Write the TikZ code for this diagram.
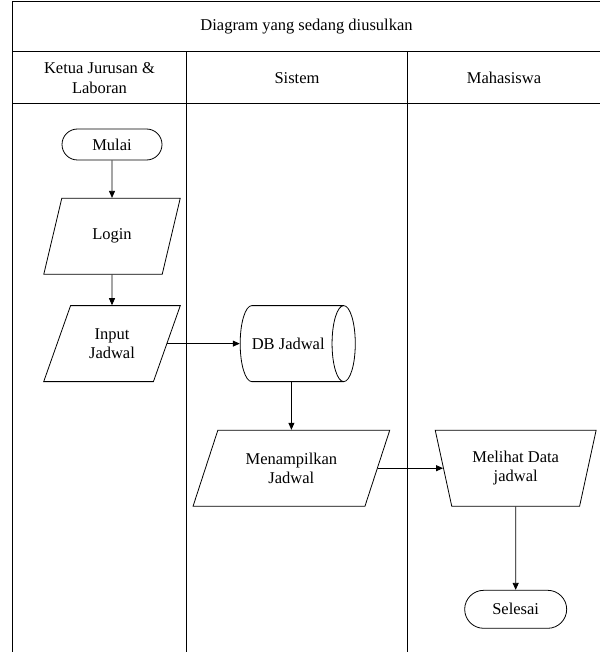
\documentclass[tikz,border=0pt]{standalone}
\usepackage{fontspec}
\setmainfont{Liberation Serif}
\usetikzlibrary{positioning, arrows.meta, shapes.geometric}

\begin{document}
\begin{tikzpicture}[
    x=1pt, y=-1pt,
    font=\fontsize{16.5pt}{19.5pt}\selectfont,
    lane/.style={line width=1pt},
    terminal/.style={rectangle, draw, rounded corners=15.5pt,
                     minimum width=100pt, minimum height=31pt,
                     align=center, line width=0.8pt},
    io/.style={trapezium, draw, trapezium stretches=true,
               trapezium left angle=64, trapezium right angle=116,
               minimum width=137pt, minimum height=76pt,
               align=center, inner sep=0pt, line width=0.8pt},
    manual/.style={trapezium, draw, trapezium stretches=true,
                   trapezium left angle=108, trapezium right angle=108,
                   minimum width=161pt, minimum height=76pt,
                   align=center, inner sep=0pt, line width=0.8pt},
    store/.style={cylinder, draw, aspect=2,
                  minimum width=76pt, minimum height=109pt,
                  align=center, inner sep=0pt, line width=0.8pt},
    arrow/.style={-{Triangle[length=7pt, width=6pt]}, line width=0.8pt}
]
  \useasboundingbox (0,0) rectangle (600,652);

  % Swimlanes
  \draw[lane] (12.5,652) -- (12.5,2) -- (600,2);
  \draw[lane] (12.5,52) -- (600,52);
  \draw[lane] (12.5,104) -- (600,104);
  \draw[lane] (186.5,52) -- (186.5,652);
  \draw[lane] (407.7,52) -- (407.7,652);

  % Headers
  \node (judul) at (306.5,27) {Diagram yang sedang diusulkan};
  \node[align=center] (kajur) at (99.5,78) {Ketua Jurusan \&\\Laboran};
  \node (sistem) at (297,78) {Sistem};
  \node (mhs) at (504,78) {Mahasiswa};

  % Ketua Jurusan & Laboran
  \node[terminal] (mulai) at (112,144.5) {Mulai};
  \node[io, below=37.5pt of mulai] (login) {Login};
  \node[io, below=30.5pt of login] (input) {Input\\Jadwal};

  % Sistem
  \node[store, right=72.5pt of input] (dbj) {DB Jadwal\hspace*{7pt}};
  \node[io, minimum width=197pt, trapezium left angle=63.6,
        trapezium right angle=116.4] (tampil) at (291.4,468.2)
    {Menampilkan\\Jadwal};

  % Mahasiswa
  \node[manual, right=65.3pt of tampil] (lihat) {Melihat Data\\jadwal};
  \node[terminal, minimum width=102pt, minimum height=38pt,
        rounded corners=19pt, below=83.3pt of lihat] (selesai) {Selesai};

  % Arrows
  \draw[arrow] (mulai) -- (login);
  \draw[arrow] (login) -- (input);
  \draw[arrow] (input.east) -- (dbj.west);
  \draw[arrow] (tampil.north |- dbj.south) -- (tampil.north);
  \draw[arrow] (tampil.east) -- (lihat.west);
  \draw[arrow] (lihat) -- (selesai);
\end{tikzpicture}
\end{document}
